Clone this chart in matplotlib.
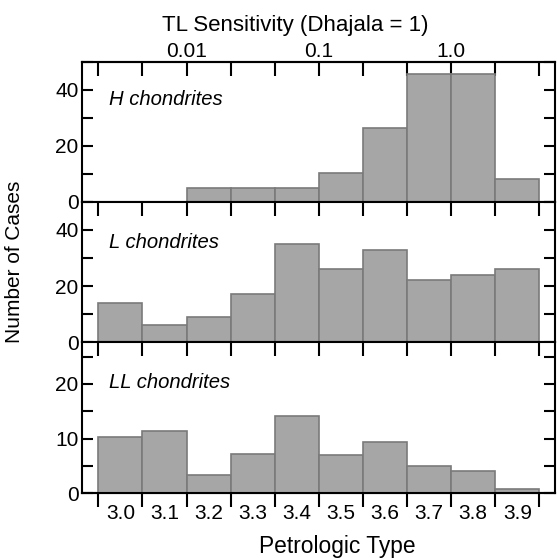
import matplotlib
matplotlib.use('Agg')
import matplotlib.pyplot as plt
import numpy as np
from matplotlib.ticker import FixedLocator, MultipleLocator, NullFormatter, FixedFormatter

plt.rcParams['font.family'] = ['Liberation Sans', 'DejaVu Sans']

# ---- data ----
types = [3.0, 3.1, 3.2, 3.3, 3.4, 3.5, 3.6, 3.7, 3.8, 3.9]
type_labels = ['3.0', '3.1', '3.2', '3.3', '3.4', '3.5', '3.6', '3.7', '3.8', '3.9']
h_counts = [0, 0, 5, 5, 5, 10.3, 26.5, 45.5, 45.5, 8]
l_counts = [14, 6, 9, 17, 35, 26, 33, 22, 24, 26]
ll_counts = [10.2, 11.3, 3.3, 7.1, 14.1, 7, 9.3, 5, 4, 0.7]
panel_names = ['H chondrites', 'L chondrites', 'LL chondrites']
tl_ticks = [0.01, 0.1, 1.0]
tl_labels = ['0.01', '0.1', '1.0']

series = [h_counts, l_counts, ll_counts]
ymax = [50, 50, 27.6]
ymajor = [[0, 20, 40], [0, 20, 40], [0, 10, 20]]
yminor = [10, 10, 5]

bin_w = 0.1
edges = list(np.round(np.arange(3.0, 4.0 + 1e-9, bin_w), 2))
centers = [t + bin_w / 2 for t in types]

W, H = 557, 558
fig = plt.figure(figsize=(W / 100, H / 100), dpi=100)

left = 82 / W
right = 555 / W
ybounds = [(61.7, 201.7), (201.7, 342.3), (342.3, 493.3)]

fill = '#a6a6a6'
edge = '#7a7a7a'
spw = 1.5
tsize = 15


def fwd(x):
    return 10 ** (-2 + (np.asarray(x) - 3.2) / 0.3)


def inv(t):
    return 3.2 + 0.3 * (np.log10(np.asarray(t)) + 2)


axes = []
for i, (counts, name) in enumerate(zip(series, panel_names)):
    ytop, ybot = ybounds[i]
    ax = fig.add_axes([left, 1 - ybot / H, right - left, (ybot - ytop) / H])
    axes.append(ax)
    ax.bar(types, counts, width=bin_w, align='edge', color=fill,
           edgecolor=edge, linewidth=1.2, zorder=2)
    ax.set_xlim(2.963, 4.0356)
    ax.set_ylim(0, ymax[i])
    for s in ax.spines.values():
        s.set_linewidth(spw)
        s.set_zorder(5)

    # x ticks: top ticks pointing inward (down)
    ax.xaxis.set_major_locator(FixedLocator(edges))
    ax.xaxis.set_major_formatter(NullFormatter())
    ax.tick_params(axis='x', which='major', top=True, bottom=False,
                   direction='in', length=10, width=spw,
                   labelbottom=False, labeltop=False)
    ax.tick_params(axis='x', which='minor', top=False, bottom=False,
                   labelbottom=False, labeltop=False)

    # y ticks
    ax.set_yticks(ymajor[i])
    ax.yaxis.set_minor_locator(MultipleLocator(yminor[i]))
    ax.tick_params(axis='y', which='both', left=True, right=True,
                   direction='in', length=8, width=spw,
                   labelsize=tsize, pad=2.5)

    ax.text((109 - 82) / (555 - 82), [0.69, 0.668, 0.695][i],
            name, transform=ax.transAxes, style='italic', fontsize=14.6,
            va='baseline', ha='left')

# top panel: TL sensitivity axis (log)
sec = axes[0].secondary_xaxis('top', functions=(fwd, inv))
sec.set_xscale('log')
sec.xaxis.set_major_locator(FixedLocator(tl_ticks))
sec.xaxis.set_major_formatter(FixedFormatter(tl_labels))
sec.xaxis.set_minor_locator(FixedLocator([]))
sec.tick_params(axis='x', which='major', length=0, labelsize=tsize, pad=0.5)
sec.spines['top'].set_linewidth(spw)

# bottom panel: outward ticks at bin edges, labels at bin centres
axb = axes[2]
axb.set_xticks(centers, minor=True)
axb.set_xticklabels(type_labels, minor=True)
axb.tick_params(axis='x', which='minor', bottom=True, length=0,
                labelbottom=True, labelsize=tsize, pad=7.5)
secb = axb.secondary_xaxis('bottom')
secb.xaxis.set_major_locator(FixedLocator(edges))
secb.xaxis.set_major_formatter(NullFormatter())
secb.tick_params(axis='x', which='major', direction='out', length=10,
                 width=spw)
secb.spines['bottom'].set_linewidth(spw)

fig.text(295 / W, 1 - 31 / H, 'TL Sensitivity (Dhajala = 1)',
         ha='center', va='baseline', fontsize=16)
fig.text(337 / W, 1 - 553 / H, 'Petrologic Type',
         ha='center', va='baseline', fontsize=16.4)
fig.text(15 / W, 1 - 262 / H, 'Number of Cases', rotation=90,
         ha='center', va='center', fontsize=15)

fig.savefig('out.png', dpi=100)
